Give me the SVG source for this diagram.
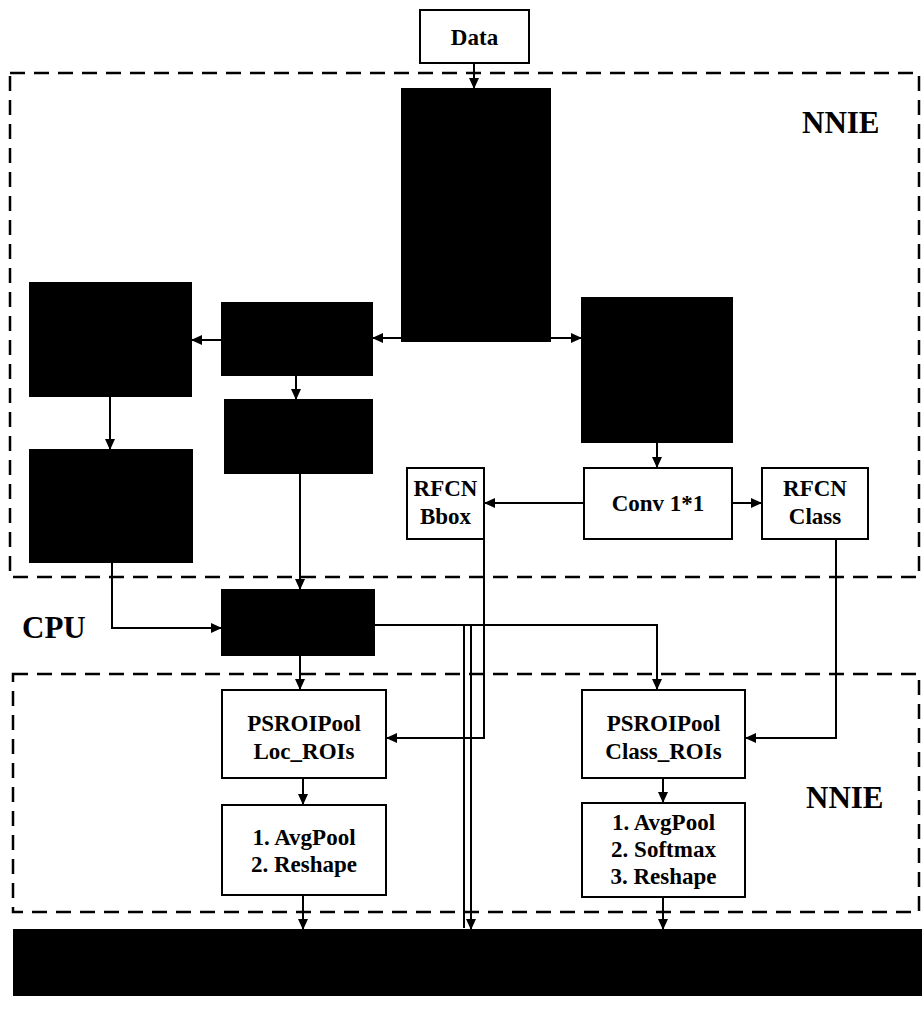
<svg xmlns="http://www.w3.org/2000/svg" width="922" height="1021" viewBox="0 0 922 1021">
<style>
.box{fill:#fff;stroke:#000;stroke-width:2}
.blk{fill:#000;stroke:#000;stroke-width:2}
.t{font-family:"Liberation Serif","Times New Roman",serif;font-weight:bold;font-size:23px;text-anchor:middle;fill:#000}
.big{font-family:"Liberation Serif","Times New Roman",serif;font-weight:bold;font-size:31px;fill:#000}
.dash{fill:none;stroke:#000;stroke-width:2.5;stroke-dasharray:15 9}
.c{fill:none;stroke:#000;stroke-width:2}
.a{marker-end:url(#ah)}
</style>
<defs>
<marker id="ah" markerUnits="userSpaceOnUse" markerWidth="11" markerHeight="10" refX="11" refY="5" orient="auto">
<path d="M0,0 L11,5 L0,10 z" fill="#000"/>
</marker>
</defs>
<rect width="922" height="1021" fill="#fff"/>
<g id="regions">
<rect class="dash" x="10" y="73" width="909" height="504"/>
<rect class="dash" x="13" y="674" width="906" height="238"/>
<text class="big" x="802" y="133">NNIE</text>
<text class="big" x="806" y="808">NNIE</text>
<text class="big" x="22" y="638">CPU</text>
</g>
<g id="connectors">
<path class="c a" d="M474,63 V89"/>
<path class="c a" d="M402,338 H372"/>
<path class="c a" d="M222,340 H191"/>
<path class="c a" d="M550,338 H582"/>
<path class="c a" d="M296,375 V400"/>
<path class="c a" d="M110,396 V450"/>
<path class="c a" d="M657,442 V468"/>
<path class="c a" d="M584,503 H484"/>
<path class="c a" d="M732,503 H762"/>
<path class="c a" d="M300,473 V590"/>
<path class="c a" d="M112,562 V628 H222"/>
<path class="c a" d="M374,625 H657 V690"/>
<path class="c" d="M464,625 V928"/>
<path class="c a" d="M471,625 V930"/>
<path class="c a" d="M300,655 V690"/>
<path class="c a" d="M484,539 V738 H386"/>
<path class="c a" d="M836,539 V738 H745"/>
<path class="c a" d="M303,778 V805"/>
<path class="c a" d="M663,778 V803"/>
<path class="c a" d="M303,895 V930"/>
<path class="c a" d="M663,897 V930"/>
</g>
<g id="data"><rect class="box" x="420" y="10" width="109" height="53"/><text class="t" x="474.5" y="45">Data</text></g>
<g id="backbone"><rect class="blk" x="402" y="89" width="148" height="252"/></g>
<g id="rpn-score"><rect class="blk" x="30" y="283" width="161" height="113"/></g>
<g id="rpn-conv"><rect class="blk" x="222" y="303" width="150" height="72"/></g>
<g id="rfcn-conv"><rect class="blk" x="582" y="298" width="150" height="144"/></g>
<g id="rpn-bbox"><rect class="blk" x="225" y="400" width="147" height="73"/></g>
<g id="rpn-softmax"><rect class="blk" x="30" y="450" width="162" height="112"/></g>
<g id="conv11"><rect class="box" x="584" y="468" width="148" height="71"/><text class="t" x="658" y="511">Conv 1*1</text></g>
<g id="rfcn-bbox"><rect class="box" x="407" y="468" width="77" height="71"/><text class="t" x="445.5" y="496">RFCN</text><text class="t" x="445.5" y="524">Bbox</text></g>
<g id="rfcn-class"><rect class="box" x="762" y="468" width="106" height="71"/><text class="t" x="815" y="496">RFCN</text><text class="t" x="815" y="524">Class</text></g>
<g id="proposal"><rect class="blk" x="222" y="590" width="152" height="65"/></g>
<g id="psroi-loc"><rect class="box" x="222" y="690" width="164" height="88"/><text class="t" x="304" y="731">PSROIPool</text><text class="t" x="304" y="759">Loc_ROIs</text></g>
<g id="avg-loc"><rect class="box" x="222" y="805" width="164" height="90"/><text class="t" x="304" y="845">1. AvgPool</text><text class="t" x="304" y="872">2. Reshape</text></g>
<g id="psroi-class"><rect class="box" x="582" y="690" width="163" height="88"/><text class="t" x="663.5" y="731">PSROIPool</text><text class="t" x="663.5" y="759">Class_ROIs</text></g>
<g id="avg-class"><rect class="box" x="582" y="803" width="163" height="94"/><text class="t" x="663.5" y="830">1. AvgPool</text><text class="t" x="663.5" y="857">2. Softmax</text><text class="t" x="663.5" y="884">3. Reshape</text></g>
<g id="output"><rect class="blk" x="14" y="930" width="908" height="65"/></g>
</svg>
